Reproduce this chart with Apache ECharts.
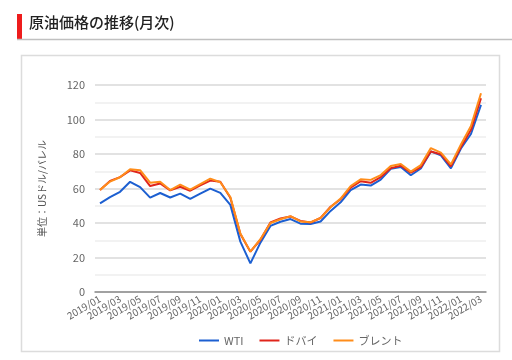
<!DOCTYPE html>
<html><head><meta charset="utf-8">
<script src="https://cdn.jsdelivr.net/npm/echarts@6/dist/echarts.min.js"></script>
<style>html,body{margin:0;padding:0;background:#fff}#c{width:512px;height:360px}</style>
</head><body><div id="c"></div>
<script>
const months = ['2019/01','2019/02','2019/03','2019/04','2019/05','2019/06','2019/07','2019/08','2019/09','2019/10','2019/11','2019/12',
'2020/01','2020/02','2020/03','2020/04','2020/05','2020/06','2020/07','2020/08','2020/09','2020/10','2020/11','2020/12',
'2021/01','2021/02','2021/03','2021/04','2021/05','2021/06','2021/07','2021/08','2021/09','2021/10','2021/11','2021/12',
'2022/01','2022/02','2022/03'];
const wti = [51.4,55.0,58.1,63.9,60.8,54.7,57.4,54.8,57.0,54.0,57.0,59.9,
57.5,50.5,29.2,16.6,28.6,38.3,40.7,42.3,39.6,39.4,40.9,47.0,
52.0,59.0,62.3,61.7,65.2,71.4,72.5,67.7,71.6,81.5,79.2,71.7,
83.2,91.6,108.5];
const dubai = [59.1,64.4,66.6,70.5,69.0,61.4,62.9,58.9,61.0,58.7,61.8,64.6,
63.9,54.6,33.6,23.4,30.3,40.3,42.6,43.8,41.2,40.3,42.9,49.4,
53.8,60.5,64.2,63.3,66.6,71.8,73.2,69.2,72.4,81.5,79.9,72.9,
84.0,94.0,112.3];
const brent = [59.2,64.0,66.5,71.2,70.6,63.4,63.9,59.1,62.2,59.4,62.6,65.7,
63.6,55.1,33.9,23.4,30.6,40.0,42.2,44.0,40.9,40.4,43.0,49.2,
54.2,61.4,65.3,65.0,67.8,73.0,74.2,69.8,73.6,83.4,80.8,74.0,
85.5,96.2,115.2];
const yTicks = [0,20,40,60,80,100,120];

const font = '"Noto Sans CJK JP","Noto Sans",sans-serif';
const chart = echarts.init(document.getElementById('c'));
chart.setOption({
  animation:false,
  textStyle:{fontFamily:font},
  graphic:[
    {type:'rect',shape:{x:17,y:14,width:5,height:25},style:{fill:'#ee1c1c'}},
    {type:'line',shape:{x1:17,y1:39.5,x2:512,y2:39.5},style:{stroke:'#c0c0c0',lineWidth:1.5}},
    {type:'text',left:29,top:15,style:{text:'原油価格の推移(月次)',font:'500 15px '+font,fill:'#222'}},
    {type:'rect',shape:{x:21.5,y:55.5,width:478,height:296},style:{fill:'none',stroke:'#dcdcdc',lineWidth:1.5}}
  ],
  grid:{left:95,right:26,top:85,bottom:68},
  legend:{top:330,left:194,itemWidth:20,itemHeight:2,itemGap:16,icon:'rect',
    textStyle:{color:'#666',fontSize:11,fontFamily:font},
    data:['WTI','ドバイ','ブレント']},
  xAxis:{type:'category',data:months,boundaryGap:true,
    axisLine:{lineStyle:{color:'#8c8c8c',width:1.5}},axisTick:{show:false},
    axisLabel:{interval:1,rotate:30,color:'#666',fontSize:10,margin:6}},
  yAxis:{type:'value',min:0,max:120,interval:20,
    name:'単位：USドル/バレル',nameLocation:'middle',nameGap:48,nameRotate:90,
    nameTextStyle:{color:'#555',fontSize:10},
    axisLine:{show:false},axisTick:{show:false},
    axisLabel:{color:'#666',fontSize:11,margin:10,formatter:v=>yTicks.includes(v)?String(v):''},
    splitLine:{lineStyle:{color:'#d9d9d9',width:1.5}},
    minorTick:{show:false,splitNumber:2},
    minorSplitLine:{show:true,lineStyle:{color:'#eeeeee',width:1.5}}},
  series:[
    {name:'WTI',type:'line',data:wti,symbol:'none',lineStyle:{color:'#1c5fd1',width:2},itemStyle:{color:'#1c5fd1'}},
    {name:'ドバイ',type:'line',data:dubai,symbol:'none',lineStyle:{color:'#e0251b',width:2},itemStyle:{color:'#e0251b'}},
    {name:'ブレント',type:'line',data:brent,symbol:'none',lineStyle:{color:'#ff8d1a',width:2},itemStyle:{color:'#ff8d1a'}}
  ]
});
</script></body></html>
